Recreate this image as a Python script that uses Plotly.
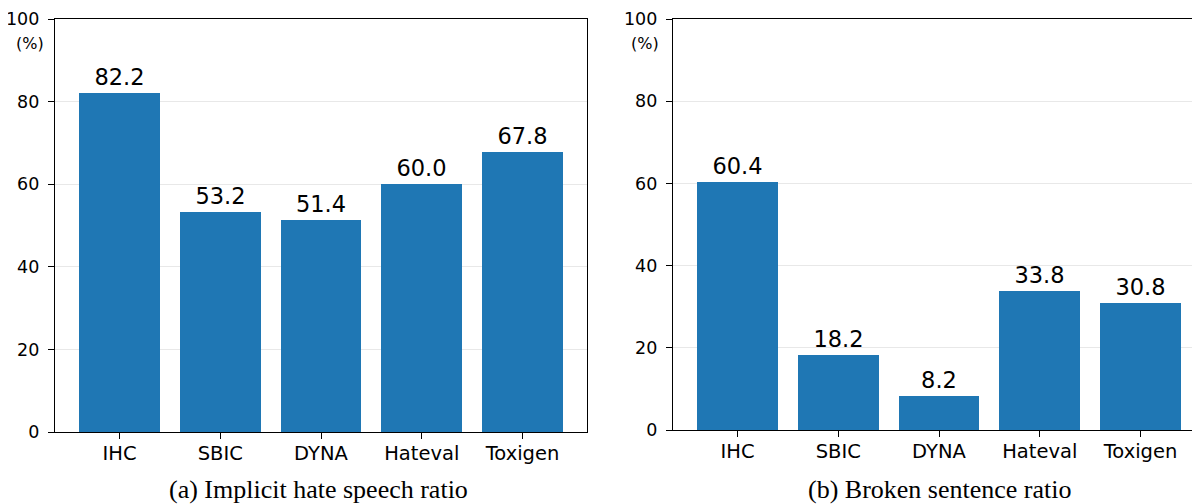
import plotly.graph_objects as go

categories = ["IHC", "SBIC", "DYNA", "Hateval", "Toxigen"]
implicit_ratio = [82.2, 53.2, 51.4, 60.0, 67.8]
broken_ratio = [60.4, 18.2, 8.2, 33.8, 30.8]
y_ticks = [0, 20, 40, 60, 80, 100]
captions = ["(a) Implicit hate speech ratio", "(b) Broken sentence ratio"]

W, H = 1200, 504
BLUE = "#1f77b4"
OFF = 8  # page body margin offset in the browser

fig = go.Figure()
for vals, xa, ya in [(implicit_ratio, "x", "y"), (broken_ratio, "x2", "y2")]:
    fig.add_trace(go.Bar(
        x=list(range(len(categories))), y=vals, xaxis=xa, yaxis=ya,
        width=0.8, marker=dict(color=BLUE, line=dict(width=0)),
        text=[f"{v:.1f}" for v in vals], textposition="outside",
        textfont=dict(family="DejaVu Sans", size=22.5, color="black"),
        cliponaxis=False, showlegend=False,
    ))

def px_x(p):
    return (p - OFF) / W

def px_y(p):
    return 1 - (p - OFF) / H

common_x = dict(
    tickmode="array", tickvals=list(range(len(categories))), ticktext=categories,
    ticks="outside", ticklen=6, tickwidth=1.2, tickcolor="black",
    showline=True, linecolor="black", linewidth=1.3, mirror=True,
    showgrid=False, zeroline=False, automargin=False,
    tickfont=dict(family="DejaVu Sans", size=19.5, color="black"),
    ticklabelstandoff=-3,
)
common_y = dict(
    range=[0, 100], tickmode="array", tickvals=y_ticks,
    ticks="outside", ticklen=6, tickwidth=1.2, tickcolor="black",
    showline=True, linecolor="black", linewidth=1.3, mirror=True,
    showgrid=True, gridcolor="#e8e8e8", gridwidth=1.2, zeroline=False,
    automargin=False,
    tickfont=dict(family="DejaVu Sans", size=17.5, color="black"),
    ticklabelstandoff=5,
)

fig.update_layout(
    width=W, height=H,
    margin=dict(l=0, r=0, t=0, b=0),
    paper_bgcolor="white", plot_bgcolor="white",
    xaxis=dict(domain=[px_x(55), px_x(587)], range=[-0.64, 4.64], anchor="y", **common_x),
    yaxis=dict(domain=[px_y(432), px_y(19)], anchor="x", **common_y),
    xaxis2=dict(domain=[px_x(673), px_x(1205)], range=[-0.64, 4.64], anchor="y2", **common_x),
    yaxis2=dict(domain=[px_y(430), px_y(19)], anchor="x2", **common_y),
    bargap=0,
)

annotations = []
for xpos in [30, 645]:
    annotations.append(dict(
        x=px_x(xpos), y=px_y(44), xref="paper", yref="paper", text="(%)",
        showarrow=False, xanchor="center", yanchor="middle",
        font=dict(family="DejaVu Sans", size=16, color="black"),
    ))
for cap, xc in zip(captions, [318, 940]):
    annotations.append(dict(
        x=px_x(xc), y=px_y(489), xref="paper", yref="paper", text=cap,
        showarrow=False, xanchor="center", yanchor="middle",
        font=dict(family="Liberation Serif", size=26, color="black"),
    ))
fig.update_layout(annotations=annotations)

fig.write_html("out.html")
